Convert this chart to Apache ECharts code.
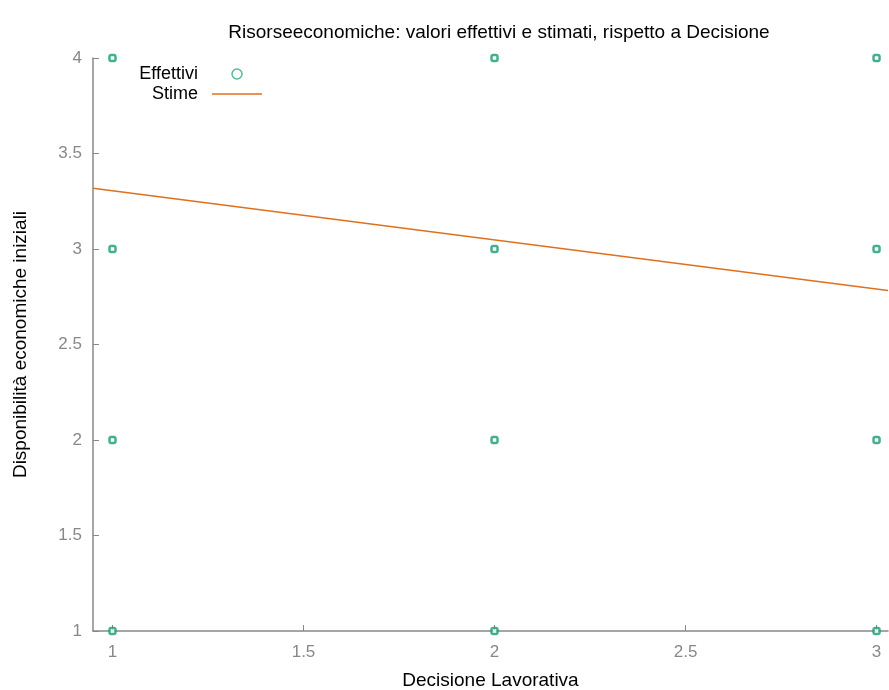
<!DOCTYPE html>
<html>
<head>
<meta charset="utf-8">
<script src="https://cdn.jsdelivr.net/npm/echarts@6/dist/echarts.min.js"></script>
<style>
html,body{margin:0;padding:0;background:#ffffff;}
#chart{width:889px;height:690px;}
</style>
</head>
<body>
<div id="chart"></div>
<script>
// Data
const titleText = 'Risorseeconomiche: valori effettivi e stimati, rispetto a Decisione';
const xName = 'Decisione Lavorativa';
const yName = 'Disponibilità economiche iniziali';
const actualX = [1, 1, 1, 1, 2, 2, 2, 2, 3, 3, 3, 3];
const actualY = [4, 3, 2, 1, 4, 3, 2, 1, 4, 3, 2, 1];
const fitX = [0.949, 3.03];
const fitY = [3.318, 2.783];
const xTicks = [1, 1.5, 2, 2.5, 3];
const yTicks = [1, 1.5, 2, 2.5, 3, 3.5, 4];

const chart = echarts.init(document.getElementById('chart'), null, {renderer: 'canvas'});
const font = 'Liberation Sans, Arial, Helvetica, sans-serif';
chart.setOption({
  backgroundColor: '#ffffff',
  animation: false,
  title: {
    text: titleText,
    left: 494, top: 17, textAlign: 'center',
    textStyle: {fontFamily: font, fontSize: 19, fontWeight: 'normal', color: '#000', lineHeight: 22}
  },
  legend: {
    orient: 'vertical',
    align: 'right',
    right: 627, top: 64,
    padding: 0,
    itemGap: 0,
    itemWidth: 50, itemHeight: 10,
    textStyle: {fontFamily: font, fontSize: 18, color: '#000', lineHeight: 20, padding: [0, 9, 0, 0]},
    data: [
      {name: 'Effettivi', icon: 'circle', itemStyle: {color: '#fff', borderColor: '#2aa882', borderWidth: 1.5}},
      {name: 'Stime', icon: 'path://M0,0 L50,0 L50,1.5 L0,1.5 Z', itemStyle: {color: '#e0701e'}}
    ]
  },
  grid: {left: 93, right: 1, top: 58, bottom: 59, containLabel: false, outerBoundsMode: 'none'},
  xAxis: {
    type: 'value',
    min: fitX[0], max: fitX[1],
    name: xName, nameLocation: 'middle', nameGap: 40,
    nameTextStyle: {fontFamily: font, fontSize: 19, color: '#000'},
    axisLine: {show: true, lineStyle: {color: '#888', width: 1.5}},
    axisTick: {show: true, inside: true, length: 6, lineStyle: {color: '#888', width: 1}, customValues: xTicks},
    axisLabel: {customValues: xTicks, margin: 13, fontFamily: font, fontSize: 17, color: '#888'},
    splitLine: {show: false}
  },
  yAxis: {
    type: 'value',
    min: yTicks[0], max: yTicks[yTicks.length - 1], interval: 0.5,
    name: yName, nameLocation: 'middle', nameGap: 63, nameRotate: 90,
    nameTextStyle: {fontFamily: font, fontSize: 19, color: '#000'},
    axisLine: {show: true, lineStyle: {color: '#888', width: 1.5}},
    axisTick: {show: true, inside: true, length: 6, lineStyle: {color: '#888', width: 1}},
    axisLabel: {margin: 11, fontFamily: font, fontSize: 17, color: '#888'},
    splitLine: {show: false}
  },
  series: [
    {
      name: 'Effettivi',
      type: 'scatter',
      symbol: 'roundRect',
      symbolSize: 6,
      itemStyle: {color: '#ffffff', borderColor: '#169a72', borderWidth: 2.5},
      data: actualX.map((x, i) => [x, actualY[i]]),
      z: 3
    },
    {
      name: 'Stime',
      type: 'line',
      showSymbol: false,
      symbol: 'none',
      lineStyle: {color: '#e0701e', width: 1.5},
      itemStyle: {color: '#e0701e'},
      data: fitX.map((x, i) => [x, fitY[i]]),
      z: 2
    }
  ]
});
</script>
</body>
</html>
